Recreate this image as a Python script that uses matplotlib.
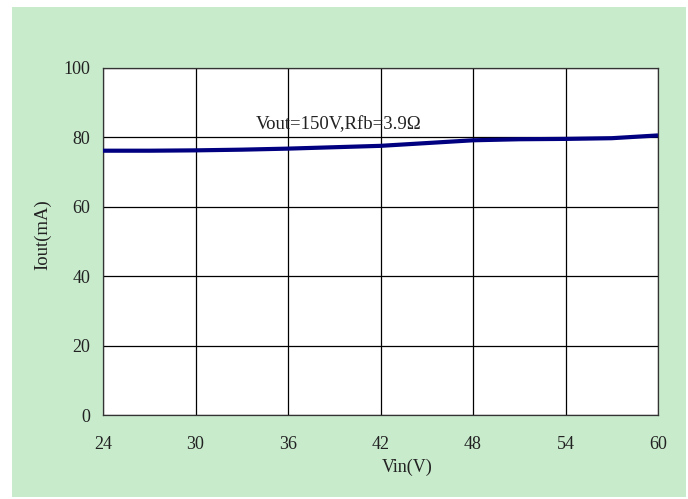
import matplotlib
matplotlib.use('Agg')
import matplotlib.pyplot as plt
from matplotlib.patches import Rectangle

# curve
vin = [24, 27, 30, 33, 36, 39, 42, 45, 48, 51, 54, 57, 60]
iout = [76.1, 76.1, 76.2, 76.4, 76.7, 77.1, 77.5, 78.3, 79.1, 79.4, 79.5, 79.7, 80.5]

x_ticks = [24, 30, 36, 42, 48, 54, 60]
y_ticks = [0, 20, 40, 60, 80, 100]

plt.rcParams['font.family'] = ['Liberation Serif', 'DejaVu Serif']

fig = plt.figure(figsize=(6.88, 4.99), dpi=100)
fig.patch.set_facecolor('white')
fig.patches.append(Rectangle((12 / 688, 2 / 499), 674 / 688, 490 / 499,
                             transform=fig.transFigure, facecolor='#c8ebcc',
                             edgecolor='none', zorder=-5))

ax = fig.add_axes([103 / 688, 84 / 499, 555 / 688, 347.3 / 499])
ax.set_facecolor('white')
ax.plot(vin, iout, color='#000080', linewidth=3, solid_capstyle='butt', zorder=3)

ax.set_xlim(24, 60)
ax.set_ylim(0, 100)
ax.set_xticks(x_ticks)
ax.set_yticks(y_ticks)
ax.grid(True, color='black', linewidth=0.9)
ax.tick_params(length=0, labelsize=13, colors='#222222')
ax.tick_params(axis='x', pad=15)
ax.tick_params(axis='y', pad=9)
for s in ax.spines.values():
    s.set_color('#333333')
    s.set_linewidth(0.9)

ax.set_xlabel('Vin(V)', fontsize=13, color='#222222', va='top')
ax.xaxis.set_label_coords(0.548, -0.125)
ax.set_ylabel('Iout(mA)', fontsize=13.5, color='#222222')
ax.yaxis.set_label_coords(-0.094, 0.52)
ax.text(33.9, 83.7, 'Vout=150V,Rfb=3.9\u03a9', fontsize=13.5, color='#222222',
        ha='left', va='center')

fig.savefig('out.png', dpi=100)
